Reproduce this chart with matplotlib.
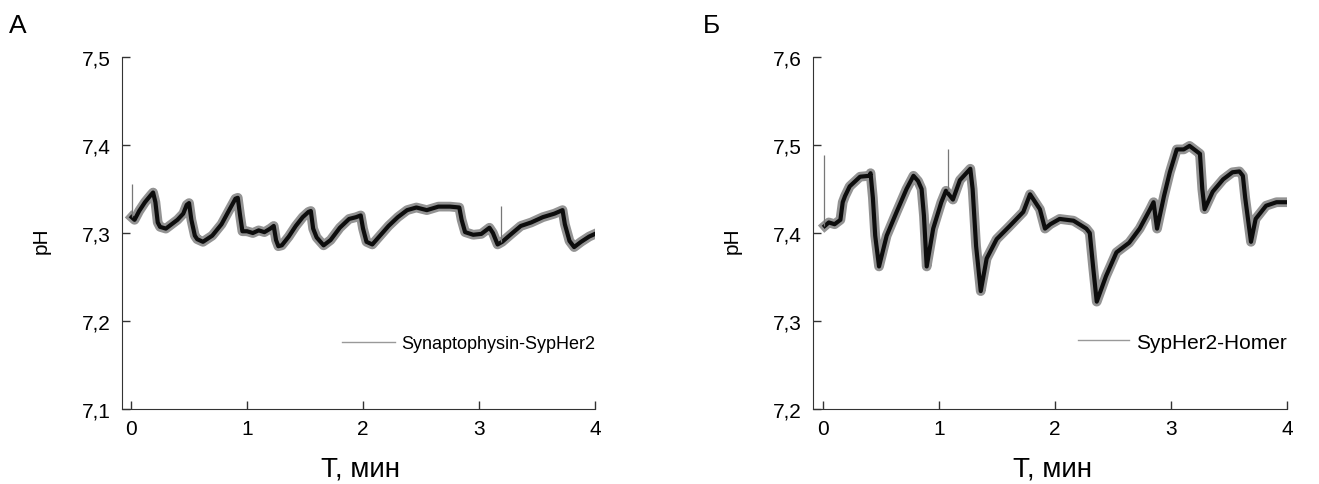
import numpy as np
import matplotlib.pyplot as plt

plt.rcParams['font.family'] = ['Liberation Sans', 'DejaVu Sans']

# panel A: Synaptophysin-SypHer2 (t in min, pH)
t_a = [0.005, 0.03, 0.07, 0.12, 0.17, 0.19, 0.21, 0.23, 0.25, 0.30, 0.35, 0.40, 0.45, 0.48,
       0.50, 0.52, 0.55, 0.57, 0.62, 0.70, 0.78, 0.85, 0.90, 0.92, 0.94, 0.96, 1.00, 1.05,
       1.10, 1.15, 1.20, 1.23, 1.25, 1.27, 1.30, 1.36, 1.42, 1.48, 1.53, 1.55, 1.57, 1.60,
       1.66, 1.72, 1.80, 1.88, 1.94, 1.98, 2.00, 2.03, 2.08, 2.14, 2.22, 2.30, 2.38, 2.46,
       2.55, 2.65, 2.75, 2.83, 2.85, 2.88, 2.95, 3.02, 3.09, 3.12, 3.16, 3.20, 3.27, 3.36,
       3.45, 3.55, 3.65, 3.72, 3.74, 3.78, 3.82, 3.88, 3.95, 4.00]
ph_a = [7.318, 7.315, 7.325, 7.335, 7.343, 7.346, 7.335, 7.312, 7.307, 7.305, 7.310, 7.315,
        7.322, 7.332, 7.334, 7.315, 7.297, 7.293, 7.290, 7.297, 7.310, 7.327, 7.339, 7.340,
        7.320, 7.302, 7.302, 7.300, 7.303, 7.301, 7.305, 7.308, 7.292, 7.285, 7.286, 7.296,
        7.308, 7.318, 7.324, 7.325, 7.305, 7.295, 7.286, 7.292, 7.306, 7.316, 7.318, 7.320,
        7.305, 7.290, 7.287, 7.296, 7.308, 7.318, 7.326, 7.329, 7.326, 7.330, 7.330, 7.329,
        7.315, 7.301, 7.298, 7.299, 7.306, 7.300, 7.287, 7.290, 7.298, 7.308, 7.312, 7.318,
        7.322, 7.326, 7.310, 7.291, 7.284, 7.290, 7.296, 7.299]
spike_t_a = [0.005, 3.19]
spike_lo_a = [7.318, 7.290]
spike_hi_a = [7.356, 7.331]

# panel B: SypHer2-Homer
t_b = [0.015, 0.05, 0.10, 0.15, 0.17, 0.19, 0.23, 0.32, 0.40, 0.41, 0.43, 0.45, 0.483,
       0.549, 0.635, 0.72, 0.78, 0.82, 0.85, 0.87, 0.894, 0.95, 1.02, 1.06, 1.12, 1.18,
       1.27, 1.29, 1.32, 1.36, 1.411, 1.497, 1.61, 1.727, 1.785, 1.87, 1.914, 1.96, 2.04,
       2.16, 2.27, 2.30, 2.33, 2.36, 2.44, 2.53, 2.64, 2.73, 2.82, 2.85, 2.88, 2.94, 2.99,
       3.05, 3.11, 3.16, 3.22, 3.25, 3.27, 3.29, 3.36, 3.45, 3.53, 3.59, 3.62, 3.64, 3.69,
       3.73, 3.82, 3.91, 4.00]
ph_b = [7.408, 7.412, 7.410, 7.415, 7.435, 7.442, 7.453, 7.464, 7.465, 7.468, 7.440, 7.397,
        7.362, 7.397, 7.424, 7.450, 7.465, 7.459, 7.450, 7.420, 7.362, 7.405, 7.435, 7.448,
        7.438, 7.460, 7.473, 7.450, 7.385, 7.334, 7.371, 7.393, 7.408, 7.424, 7.444, 7.427,
        7.405, 7.410, 7.416, 7.414, 7.405, 7.400, 7.360, 7.322, 7.351, 7.378, 7.389, 7.405,
        7.427, 7.435, 7.405, 7.442, 7.469, 7.495, 7.495, 7.499, 7.493, 7.490, 7.450, 7.427,
        7.447, 7.461, 7.469, 7.470, 7.465, 7.440, 7.390, 7.416, 7.431, 7.435, 7.435]
spike_t_b = [0.012, 1.075]
spike_lo_b = [7.408, 7.448]
spike_hi_b = [7.489, 7.495]

fig = plt.figure(figsize=(13.19, 4.85), dpi=100)
ax1 = fig.add_axes([0.0925, 0.1546, 0.3586, 0.7258])
ax2 = fig.add_axes([0.6164, 0.1546, 0.3593, 0.7258])

panels = [
    (ax1, t_a, ph_a, spike_t_a, spike_lo_a, spike_hi_a, 'Synaptophysin-SypHer2',
     (7.1, 7.5), [7.1, 7.2, 7.3, 7.4, 7.5], -0.078, 0.185, 13, 2.9),
    (ax2, t_b, ph_b, spike_t_b, spike_lo_b, spike_hi_b, 'SypHer2-Homer',
     (7.2, 7.6), [7.2, 7.3, 7.4, 7.5, 7.6], -0.086, 0.19, 15, 2.45),
]

for ax, t, ph, st, slo, shi, name, ylim, yt, x0, leg_y, leg_fs, hl in panels:
    ax.plot(t, ph, color='#3a3a3a', lw=7, alpha=0.55, solid_joinstyle='round')
    ax.plot(t, ph, color='#0d0d0d', lw=3, solid_joinstyle='round')
    ax.vlines(st, slo, shi, color='#777777', lw=0.9)
    ax.plot([], [], color='#999999', lw=1, label=name)

    ax.set_xlim(x0, 4.0)
    ax.set_ylim(*ylim)
    ax.set_xticks([0, 1, 2, 3, 4])
    ax.set_yticks(yt)
    ax.set_yticklabels([('%.1f' % v).replace('.', ',') for v in yt])
    ax.tick_params(direction='in', length=6, width=1, labelsize=15, color='#333333')
    ax.tick_params(axis='x', pad=7)
    ax.tick_params(axis='y', pad=8)
    for s in ['top', 'right']:
        ax.spines[s].set_visible(False)
    for s in ['left', 'bottom']:
        ax.spines[s].set_color('#333333')
    ax.set_xlabel('T, мин', fontsize=20)
    ax.xaxis.set_label_coords(0.505, -0.133)
    ax.set_ylabel('pH', fontsize=15)
    ax.yaxis.set_label_coords(-0.15, 0.48)
    ax.legend(loc='center right', bbox_to_anchor=(1.0, leg_y), frameon=False, fontsize=leg_fs,
              handlelength=hl, handletextpad=0.35, borderpad=0, borderaxespad=0)

fig.text(9 / 1319, 1 - 14 / 485, 'А', fontsize=19, va='top', ha='left')
fig.text(703 / 1319, 1 - 14 / 485, 'Б', fontsize=19, va='top', ha='left')

fig.savefig('out.png', dpi=100)
